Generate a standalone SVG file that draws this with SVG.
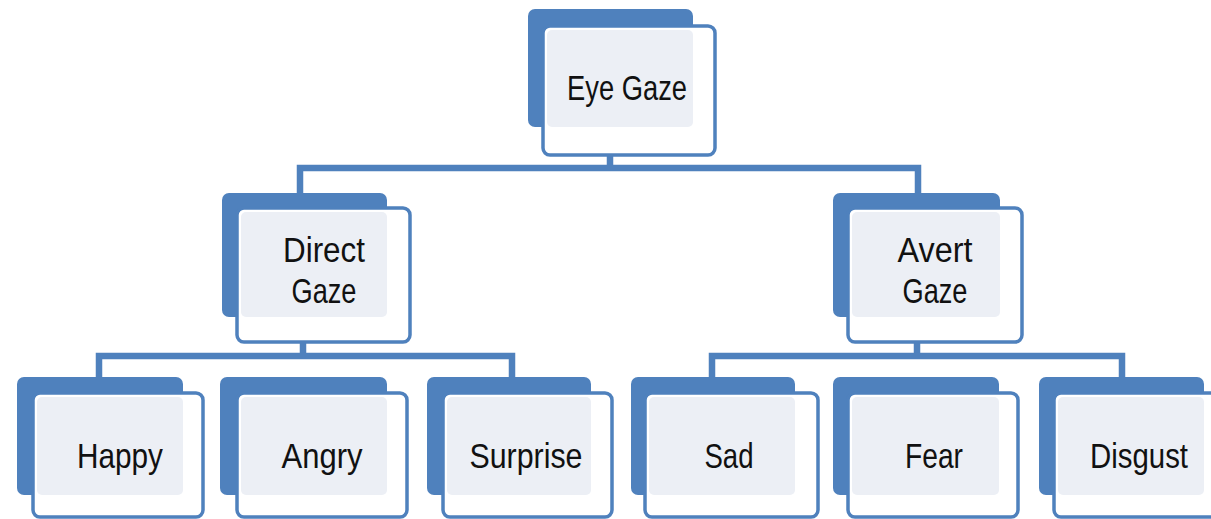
<svg xmlns="http://www.w3.org/2000/svg" width="1211" height="519" viewBox="0 0 1211 519">
<style>
.back{fill:#4f81bd;}
.front{fill:#ffffff;stroke:#4f81bd;stroke-width:3.5;}
.inner{fill:#eceff5;}
.conn{fill:none;stroke:#4f81bd;stroke-width:6.5;stroke-linecap:butt;stroke-linejoin:miter;}
.lbl{font-family:"Liberation Sans",Arial,sans-serif;font-size:35px;fill:#111111;text-anchor:middle;}
</style>
<rect width="1211" height="519" fill="#ffffff"/>
<g id="connectors">
<path class="conn" d="M610,155 V168 M300,194 V168 H918 V194"/>
<path class="conn" d="M303,342 V356 M99,378 V356 H512 V378"/>
<path class="conn" d="M917,342 V356 M712,378 V356 H1122 V378"/>
</g>
<g id="eye-gaze">
<rect class="back" x="528" y="9" width="165" height="118" rx="7"/>
<rect class="front" x="543" y="26" width="172" height="129" rx="7"/>
<rect class="inner" x="547" y="30" width="146" height="97" rx="5"/>
<text class="lbl" x="627" y="100" textLength="120" lengthAdjust="spacingAndGlyphs">Eye Gaze</text>
</g>
<g id="direct-gaze">
<rect class="back" x="222" y="193" width="165" height="124" rx="7"/>
<rect class="front" x="237" y="208" width="173" height="134" rx="7"/>
<rect class="inner" x="241" y="212" width="146" height="105" rx="5"/>
<text class="lbl" x="324" y="262" textLength="82" lengthAdjust="spacingAndGlyphs">Direct</text>
<text class="lbl" x="324" y="303" textLength="65" lengthAdjust="spacingAndGlyphs">Gaze</text>
</g>
<g id="avert-gaze">
<rect class="back" x="833" y="193" width="167" height="124" rx="7"/>
<rect class="front" x="848" y="208" width="174" height="134" rx="7"/>
<rect class="inner" x="852" y="212" width="148" height="105" rx="5"/>
<text class="lbl" x="935" y="262" textLength="75" lengthAdjust="spacingAndGlyphs">Avert</text>
<text class="lbl" x="935" y="303" textLength="65" lengthAdjust="spacingAndGlyphs">Gaze</text>
</g>
<g id="happy">
<rect class="back" x="17" y="377" width="166" height="118" rx="7"/>
<rect class="front" x="33" y="393" width="170" height="124" rx="7"/>
<rect class="inner" x="37" y="397" width="146" height="98" rx="5"/>
<text class="lbl" x="120" y="468" textLength="86" lengthAdjust="spacingAndGlyphs">Happy</text>
</g>
<g id="angry">
<rect class="back" x="220" y="377" width="167" height="118" rx="7"/>
<rect class="front" x="237" y="393" width="170" height="124" rx="7"/>
<rect class="inner" x="241" y="397" width="146" height="98" rx="5"/>
<text class="lbl" x="322" y="468" textLength="81" lengthAdjust="spacingAndGlyphs">Angry</text>
</g>
<g id="surprise">
<rect class="back" x="427" y="377" width="164" height="118" rx="7"/>
<rect class="front" x="443" y="393" width="169" height="124" rx="7"/>
<rect class="inner" x="447" y="397" width="144" height="98" rx="5"/>
<text class="lbl" x="526" y="468" textLength="113" lengthAdjust="spacingAndGlyphs">Surprise</text>
</g>
<g id="sad">
<rect class="back" x="631" y="377" width="164" height="118" rx="7"/>
<rect class="front" x="645" y="393" width="173" height="124" rx="7"/>
<rect class="inner" x="649" y="397" width="146" height="98" rx="5"/>
<text class="lbl" x="729" y="468" textLength="49" lengthAdjust="spacingAndGlyphs">Sad</text>
</g>
<g id="fear">
<rect class="back" x="833" y="377" width="166" height="118" rx="7"/>
<rect class="front" x="848" y="393" width="170" height="124" rx="7"/>
<rect class="inner" x="852" y="397" width="147" height="98" rx="5"/>
<text class="lbl" x="934" y="468" textLength="58" lengthAdjust="spacingAndGlyphs">Fear</text>
</g>
<g id="disgust">
<rect class="back" x="1039" y="377" width="165" height="118" rx="7"/>
<rect class="front" x="1054" y="393" width="172" height="124" rx="7"/>
<rect class="inner" x="1058" y="397" width="146" height="98" rx="5"/>
<text class="lbl" x="1139" y="468" textLength="98" lengthAdjust="spacingAndGlyphs">Disgust</text>
</g>
</svg>
